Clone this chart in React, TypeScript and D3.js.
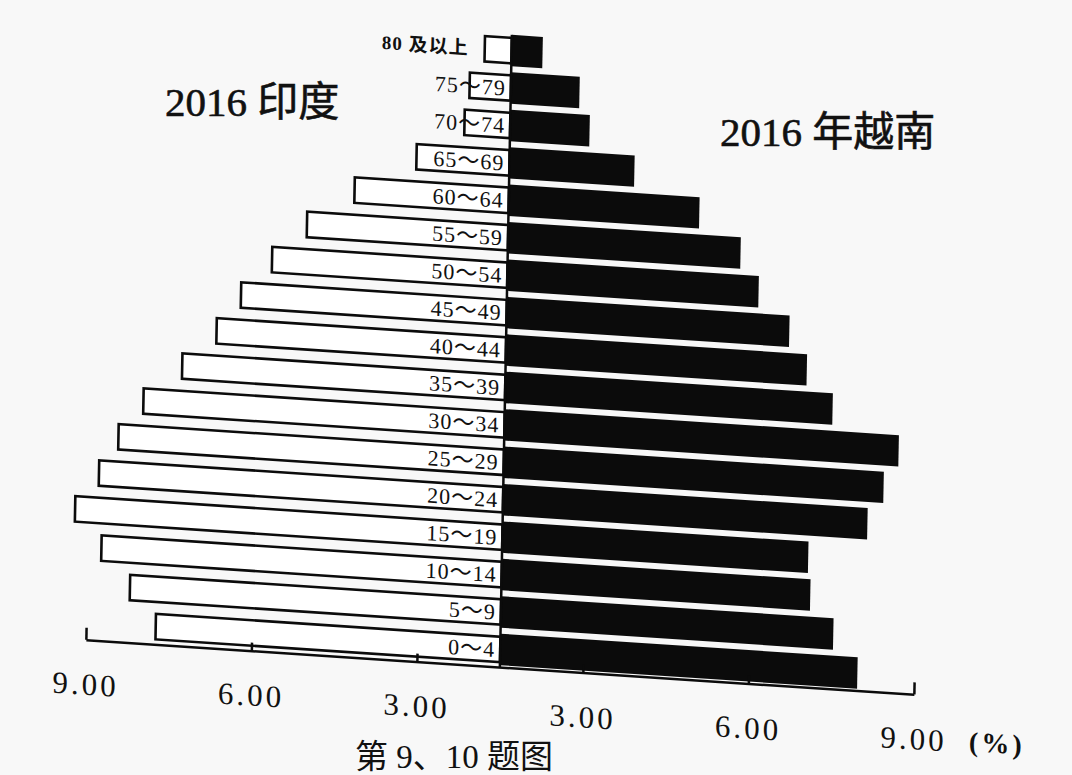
import React, { useEffect, useRef } from 'react';
import * as d3 from 'd3';

// age groups, top to bottom
const ages = [
  '80 及以上', '75～79', '70～74', '65～69', '60～64', '55～59', '50～54', '45～49',
  '40～44', '35～39', '30～34', '25～29', '20～24', '15～19', '10～14', '5～9', '0～4',
];
// share of population (%)
const india = [0.97, 1.49, 1.65, 3.18, 4.29, 5.14, 5.76, 6.31, 6.74, 7.35, 8.04, 8.48, 8.82, 9.24, 8.75, 8.22, 7.74];
const vietnam = [1.12, 2.48, 2.87, 3.76, 4.95, 5.71, 6.05, 6.62, 6.95, 7.43, 8.64, 8.38, 8.1, 7.04, 7.09, 7.52, 7.97];
const tickValues = [-9, -6, -3, 3, 6, 9];

const App: React.FC = () => {
  const svgRef = useRef<SVGSVGElement>(null);

  useEffect(() => {
    document.body.style.margin = '0';
    if (!svgRef.current) return;

    const svg = d3.select(svgRef.current);
    svg.selectAll('*').remove();

    const width = 1072;
    const height = 775;
    const cx = 500;
    const axisY = 667;
    const ink = '#0b0b0b';

    svg.append('rect')
      .attr('width', width)
      .attr('height', height)
      .attr('fill', '#f8f8f8');

    // the scan is a little skewed, so the whole chart gets sheared
    const g = svg.append('g')
      .attr('transform', `translate(${cx},660) matrix(1,0.066,-0.019,1,0,0) translate(${-cx},-660)`);

    // the axis in the picture: 0-3 is half as wide as 3-6 and 6-9
    const side = d3.scaleLinear().domain([0, 3, 9]).range([0, 83, 414]);
    const axisScale = d3.scaleLinear()
      .domain([-9, -3, 0, 3, 9])
      .range([cx - side(9), cx - side(3), cx, cx + side(3), cx + side(9)]);

    const y = d3.scaleBand<string>()
      .domain(ages)
      .range([33, axisY])
      .paddingInner(0.16)
      .paddingOuter(0.05);
    const bw = y.bandwidth();

    // Vietnam (right, black)
    g.selectAll('rect.vn')
      .data(vietnam)
      .enter()
      .append('rect')
      .attr('class', 'vn')
      .attr('x', cx)
      .attr('y', (d, i) => y(ages[i])!)
      .attr('width', d => side(d))
      .attr('height', bw)
      .attr('fill', ink);

    // India (left, outlined)
    g.selectAll('rect.in')
      .data(india)
      .enter()
      .append('rect')
      .attr('class', 'in')
      .attr('x', d => cx - side(d))
      .attr('y', (d, i) => y(ages[i])! + 3)
      .attr('width', d => side(d))
      .attr('height', bw - 6)
      .attr('fill', '#fff')
      .attr('stroke', ink)
      .attr('stroke-width', 2.6);

    // centre line
    g.append('line')
      .attr('x1', cx)
      .attr('x2', cx)
      .attr('y1', y(ages[0])!)
      .attr('y2', axisY)
      .attr('stroke', ink)
      .attr('stroke-width', 2.5);

    // age labels
    g.selectAll('text.age')
      .data(ages)
      .enter()
      .append('text')
      .attr('class', 'age')
      .attr('x', (d, i) => (i === 0 ? cx - side(india[0]) - 16 : cx - 5))
      .attr('y', d => y(d)! + bw / 2)
      .attr('dy', '0.36em')
      .attr('text-anchor', 'end')
      .attr('font-family', '"Liberation Serif", "Noto Sans CJK SC", serif')
      .attr('font-size', (d, i) => (i === 0 ? 19 : 22))
      .attr('font-weight', (d, i) => (i === 0 ? 'bold' : 'normal'))
      .attr('letter-spacing', 1)
      .attr('fill', '#111')
      .text(d => d);

    // x axis
    const axis = d3.axisBottom(axisScale)
      .tickValues(tickValues)
      .tickSizeInner(-8)
      .tickSizeOuter(0)
      .tickPadding(33)
      .tickFormat(d => Math.abs(+d).toFixed(2));

    const ax = g.append('g')
      .attr('transform', `translate(0,${axisY})`)
      .call(axis);

    ax.select('.domain').attr('stroke', ink).attr('stroke-width', 2.5);
    ax.selectAll('.tick line')
      .attr('stroke', ink)
      .attr('stroke-width', 2.5)
      .attr('y2', (d: any) => (Math.abs(d) === 9 ? -12 : -8));
    ax.selectAll('.tick text')
      .attr('font-family', '"Liberation Serif", serif')
      .attr('font-size', 31)
      .attr('letter-spacing', 3)
      .attr('fill', '#111');

    g.append('text')
      .attr('x', axisScale(9) + 56)
      .attr('y', axisY + 33)
      .attr('dy', '0.71em')
      .attr('font-family', '"Liberation Serif", serif')
      .attr('font-size', 28)
      .attr('font-weight', 'bold')
      .attr('letter-spacing', 3)
      .attr('fill', '#111')
      .text('(%)');

    // titles
    svg.append('text')
      .attr('x', 165)
      .attr('y', 116)
      .attr('font-family', '"Liberation Serif", "Noto Sans CJK SC", serif')
      .attr('font-size', 41)
      .attr('stroke', '#111')
      .attr('stroke-width', 0.6)
      .attr('fill', '#111')
      .text('2016 印度');

    svg.append('text')
      .attr('x', 720)
      .attr('y', 146)
      .attr('font-family', '"Liberation Serif", "Noto Sans CJK SC", serif')
      .attr('font-size', 41)
      .attr('stroke', '#111')
      .attr('stroke-width', 0.6)
      .attr('fill', '#111')
      .text('2016 年越南');

    // caption at the bottom edge
    svg.append('text')
      .attr('x', 355)
      .attr('y', 768)
      .attr('font-family', '"Liberation Serif", "Noto Sans CJK SC", serif')
      .attr('font-size', 33)
      .attr('fill', '#111')
      .text('第 9、10 题图');
  }, []);

  return (
    <svg ref={svgRef} width={1072} height={775} style={{ display: 'block' }} />
  );
};

export default App;
